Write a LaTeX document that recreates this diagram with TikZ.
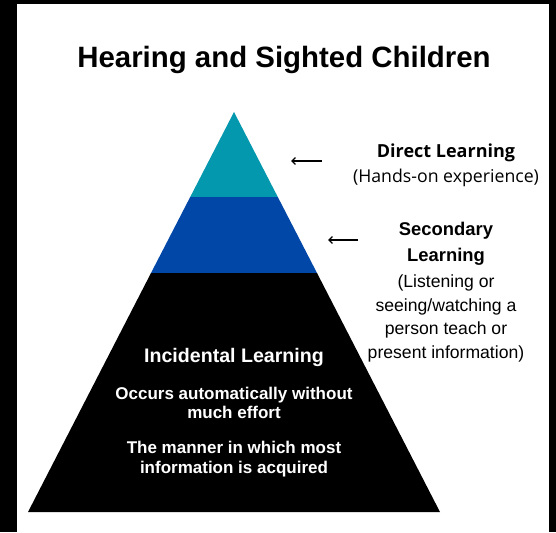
\documentclass[tikz,border=0pt]{standalone}
\usepackage{fontspec}
\setmainfont{Liberation Sans}
\newfontfamily\sidefont{Open Sans}
\usetikzlibrary{arrows.meta}
\definecolor{topteal}{HTML}{0398AE}
\definecolor{midblue}{HTML}{0047A8}
\tikzset{
  lab/.style={align=center, inner sep=0pt, text=black},
  inlab/.style={align=center, inner sep=0pt, text=white, font=\bfseries},
  pointer/.style={-{Straight Barb[length=3.5pt,width=7pt]}, line width=1.3pt, black},
}
\begin{document}
\begin{tikzpicture}[x=1pt,y=-1pt]
\useasboundingbox (0,0) rectangle (556,532);
\fill[black] (0,0) rectangle (556,532);
\fill[white] (17,4) rectangle (549,532);
% pyramid
\coordinate (apex) at (234,112);
\fill[topteal] (234,112) -- (277.8,197) -- (190.2,197) -- cycle;
\fill[midblue] (190.2,197) -- (277.8,197) -- (317,273) -- (151,273) -- cycle;
\fill[black] (151,273) -- (317,273) -- (440,512) -- (28,512) -- cycle;
% title
\node[lab, font=\bfseries\fontsize{29.4}{32}\selectfont] (title) at (284,60) {Hearing and Sighted Children};
% right labels
\node[lab, font=\sidefont\bfseries\fontsize{18}{21}\selectfont] (direct) at (446,152.5) {Direct Learning};
\node[lab, font=\sidefont\fontsize{17.7}{21}\selectfont] (directsub) at (446,177.5) {(Hands-on experience)};
\node[lab, font=\bfseries\fontsize{18.4}{26}\selectfont] (second) at (446,244) {Secondary\\Learning};
\node[lab, font=\fontsize{17.6}{23.4}\selectfont] (secondsub) at (446,318.5) {(Listening or\\seeing/watching a\\person teach or\\present information)};
% arrows
\coordinate (a1s) at (322,161);
\coordinate (a1e) at (291,161);
\coordinate (a2s) at (358,240);
\coordinate (a2e) at (328,240);
\draw[pointer] (a1s) -- (a1e);
\draw[pointer] (a2s) -- (a2e);
% inside text
\node[inlab, font=\bfseries\fontsize{19.6}{22}\selectfont] (incid) at (234,357) {Incidental Learning};
\node[inlab, font=\bfseries\fontsize{17}{19.5}\selectfont] (occurs) at (234,403) {Occurs automatically without\\much effort};
\node[inlab, font=\bfseries\fontsize{17}{19.5}\selectfont] (manner) at (234,459) {The manner in which most\\information is acquired};
\end{tikzpicture}
\end{document}
